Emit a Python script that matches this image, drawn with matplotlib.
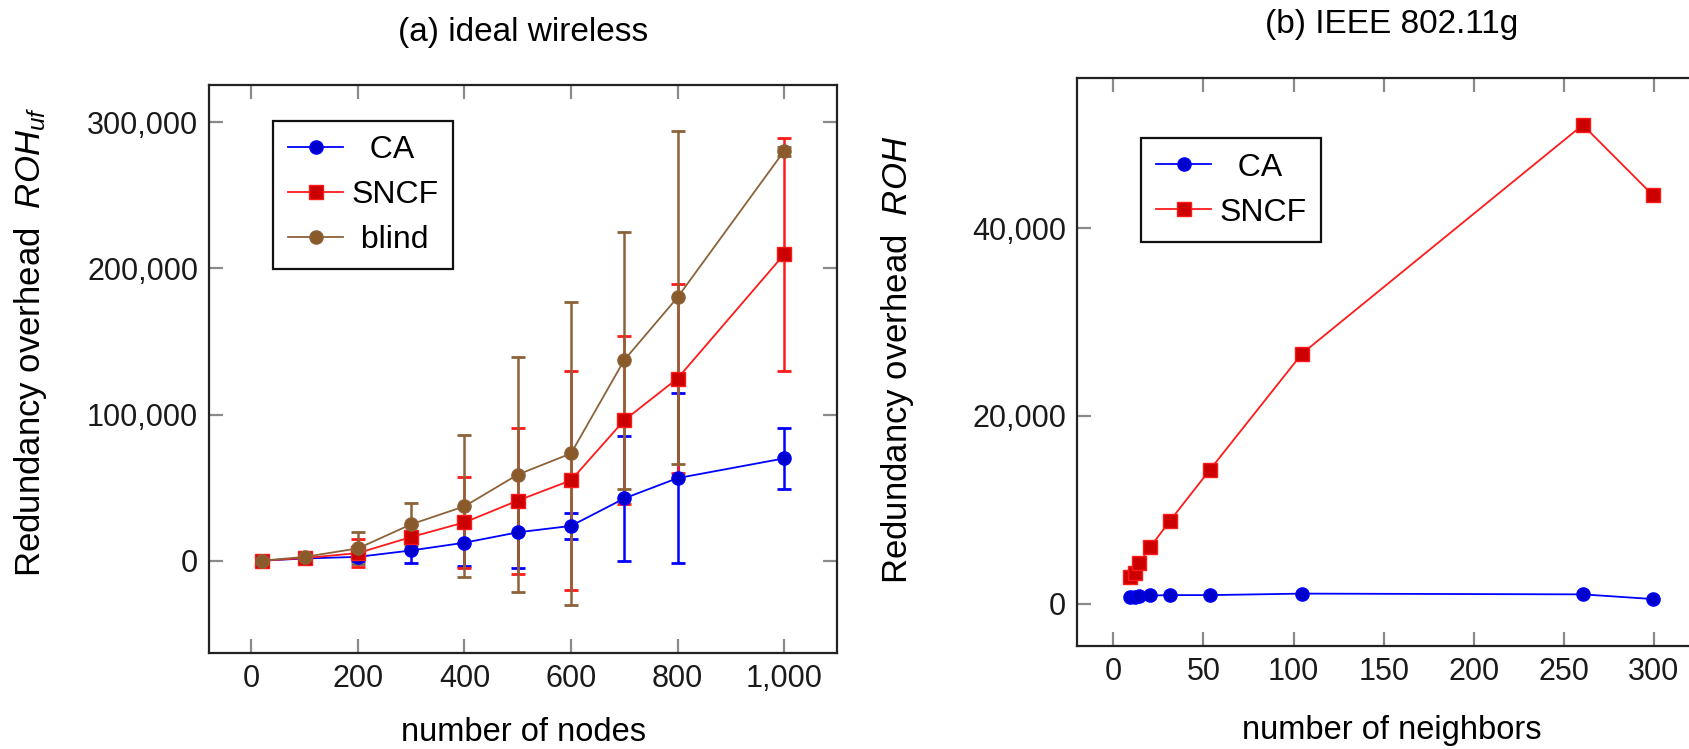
import matplotlib
matplotlib.use("Agg")
import matplotlib.pyplot as plt
from matplotlib import font_manager
from matplotlib.ticker import FuncFormatter, FixedLocator
from matplotlib.lines import Line2D

# ---------------- data ----------------
nodes = [20, 100, 200, 300, 400, 500, 600, 700, 800, 1000]
ca_a = [0, 1500, 2600, 7000, 12300, 19400, 23800, 42600, 56500, 70000]
ca_a_err = [500, 1500, 2500, 8600, 16200, 24100, 8900, 43000, 58000, 21000]
sncf_a = [0, 1800, 5200, 16200, 26200, 41100, 55000, 96100, 124700, 209600]
sncf_a_err = [500, 1500, 9800, 8000, 31000, 50000, 75000, 57600, 65000, 79500]
blind_a = [0, 2600, 8400, 24900, 37200, 58900, 73400, 137300, 180200, 280300]
blind_a_err = [500, 1500, 11000, 14400, 48600, 80500, 103800, 88000, 114000, 3000]

neighbors = [9.4, 12, 14.4, 20.5, 31.5, 53.5, 104.7, 260.5, 299.5]
ca_b = [700, 750, 820, 880, 920, 920, 1080, 1000, 500]
sncf_b = [2800, 3300, 4350, 6050, 8850, 14250, 26640, 51000, 43500]

xticks_a = [0, 200, 400, 600, 800, 1000]
yticks_a = [0, 100000, 200000, 300000]
xticks_b = [0, 50, 100, 150, 200, 250, 300]
yticks_b = [0, 20000, 40000]

# ---------------- fonts ----------------
avail = {f.name for f in font_manager.fontManager.ttflist}
def pick(*names):
    for n in names:
        if n in avail:
            return n
    return "DejaVu Sans"
main_font = pick("Liberation Sans", "Arial", "DejaVu Sans")

plt.rcParams["font.family"] = [main_font, "DejaVu Sans"]
plt.rcParams["mathtext.fontset"] = "custom"
plt.rcParams["mathtext.rm"] = main_font
plt.rcParams["mathtext.it"] = main_font + ":italic"

blue = "#0000ff"; blue_f = "#0000cc"
red = "#ff1a1a"; red_f = "#cc0000"
brown = "#8c6239"; brown_f = "#8a5a2b"

fmt = FuncFormatter(lambda v, p: f"{int(round(v)):,}")

W, H = 1689, 749
fig = plt.figure(figsize=(W / 100, H / 100), dpi=100)
ax1 = fig.add_axes([209.3 / W, (H - 653.3) / H, 628 / W, 568 / H])
ax2 = fig.add_axes([1077.3 / W, (H - 646) / H, 628 / W, 568 / H])

def style(ax):
    for s in ax.spines.values():
        s.set_linewidth(1.6)
        s.set_color("#222222")
    ax.tick_params(direction="in", length=10, width=1.6, color="#8a8a8a",
                   top=True, right=True, labelsize=22, pad=8)
    for t in ax.get_xticklabels() + ax.get_yticklabels():
        t.set_color("#1a1a1a")

lw = 1.3
ms_o = 9.5
ms_s = 10.5
ebkw = dict(capsize=5, capthick=2, elinewidth=1.8)
# ---- panel (a) ----
ax1.errorbar(nodes, ca_a, yerr=ca_a_err, color=blue, lw=lw, marker="o", ms=ms_o,
             mfc=blue_f, mec=blue, **ebkw)
ax1.errorbar(nodes, sncf_a, yerr=sncf_a_err, color=red, lw=lw, marker="s", ms=ms_s,
             mfc=red_f, mec=red, **ebkw)
ax1.errorbar(nodes, blind_a, yerr=blind_a_err, color=brown, lw=lw, marker="o", ms=ms_o,
             mfc=brown_f, mec=brown, **ebkw)
ax1.set_xlim(-79, 1100)
ax1.set_ylim(-63400, 325400)
ax1.xaxis.set_major_locator(FixedLocator(xticks_a))
ax1.yaxis.set_major_locator(FixedLocator(yticks_a))
ax1.xaxis.set_major_formatter(fmt)
ax1.yaxis.set_major_formatter(fmt)
style(ax1)
ax1.set_xlabel("number of nodes", fontsize=23.5)
ax1.xaxis.label.set_va("bottom")
ax1.xaxis.set_label_coords(0.5, -0.1665)
ax1.set_ylabel(r"Redundancy overhead  $ROH_{uf}$", fontsize=25)
ax1.yaxis.set_label_coords(-0.256, 0.549)
ax1.text(0.5, 1.093, "(a) ideal wireless", fontsize=24, ha="center", va="center",
         transform=ax1.transAxes)

h_ca = Line2D([], [], color=blue, lw=lw, marker="o", ms=ms_o, mfc=blue_f, mec=blue)
h_sn = Line2D([], [], color=red, lw=lw, marker="s", ms=ms_s, mfc=red_f, mec=red)
h_bl = Line2D([], [], color=brown, lw=lw, marker="o", ms=ms_o, mfc=brown_f, mec=brown)

legkw = dict(loc="upper left", fontsize=23, frameon=True, fancybox=False,
             framealpha=1, edgecolor="#111111", handlelength=1.74,
             handletextpad=0.26, borderpad=0.45, labelspacing=0.47, borderaxespad=0)
leg1 = ax1.legend([h_ca, h_sn, h_bl], ["  CA", "SNCF", " blind"],
                  bbox_to_anchor=(0.102, 0.938), **legkw)
leg1.get_frame().set_linewidth(1.6)

# ---- panel (b) ----
ax2.plot(neighbors, ca_b, color=blue, lw=lw, marker="o", ms=ms_o, mfc=blue_f, mec=blue)
ax2.plot(neighbors, sncf_b, color=red, lw=lw, marker="s", ms=ms_s, mfc=red_f, mec=red)
ax2.set_xlim(-20, 328.5)
ax2.set_ylim(-4500, 56000)
ax2.xaxis.set_major_locator(FixedLocator(xticks_b))
ax2.yaxis.set_major_locator(FixedLocator(yticks_b))
ax2.xaxis.set_major_formatter(fmt)
ax2.yaxis.set_major_formatter(fmt)
style(ax2)
ax2.set_xlabel("number of neighbors", fontsize=23.5)
ax2.xaxis.set_label_coords(0.5, -0.121)
ax2.set_ylabel(r"Redundancy overhead  $ROH$", fontsize=25)
ax2.yaxis.set_label_coords(-0.2575, 0.504)
ax2.text(0.5, 1.095, "(b) IEEE 802.11g", fontsize=24, ha="center", va="center",
         transform=ax2.transAxes)
leg2 = ax2.legend([h_ca, h_sn], ["  CA", "SNCF"],
                  bbox_to_anchor=(0.102, 0.894), **legkw)
leg2.get_frame().set_linewidth(1.6)

fig.savefig("out.png", dpi=100)
